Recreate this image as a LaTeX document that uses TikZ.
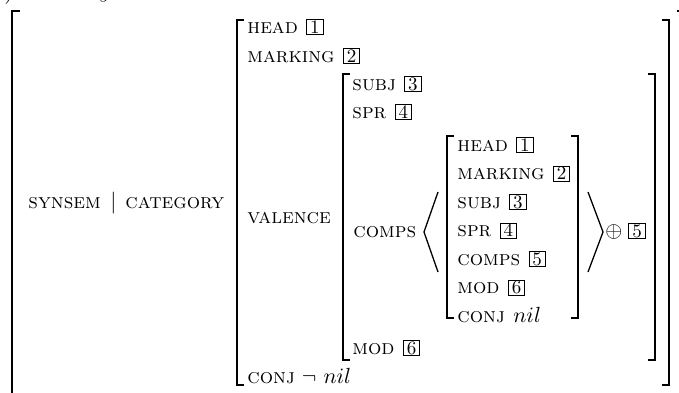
\documentclass[tikz,border=0pt]{standalone}
\newcommand{\tg}[1]{{\setlength{\fboxsep}{0pt}\setlength{\fboxrule}{0.5pt}\fbox{\makebox[7.6pt]{\rule[-0.6pt]{0pt}{6.6pt}\fontsize{9.5}{10}\selectfont #1}}}}
\newcommand{\fs}[1]{\textsc{#1}}
\newcommand{\avsp}{\hspace{4.2pt}}
\begin{document}
\begin{tikzpicture}[x=0.5pt,y=-0.5pt,
  lbl/.style={anchor=base west,inner sep=0pt,font=\fontsize{10.5}{12}\selectfont},
  sqb/.style={line width=0.95pt},
  ang/.style={line width=0.65pt}]
\useasboundingbox (0,0) rectangle (679,392);
% fragments of a line above
\node[lbl] (frA) at (4,-2) {\fontsize{12}{14}\selectfont $)$};
\node[lbl] (frB) at (99,-3) {\fontsize{12}{14}\selectfont $y$};
% outer brackets
\draw[sqb] (20,11) -- (12,11) -- (12,400);
\draw[sqb] (677,11) -- (686,11) -- (686,400);
% category brackets
\draw[sqb] (244,20) -- (237,20) -- (237,385) -- (244,385);
\draw[sqb] (662,20) -- (669,20) -- (669,385) -- (662,385);
% valence brackets
\draw[sqb] (350,74) -- (343,74) -- (343,360) -- (350,360);
\draw[sqb] (648,74) -- (655,74) -- (655,360) -- (648,360);
% inner brackets
\draw[sqb] (454,136) -- (447,136) -- (447,318) -- (454,318);
\draw[sqb] (571,136) -- (578,136) -- (578,318) -- (571,318);
% angle brackets
\draw[ang] (438,192) -- (424,232) -- (438,272);
\draw[ang] (588,192) -- (603,232) -- (588,272);
% left column
\node[lbl] (syn) at (28,208) {\fs{synsem}};
\node[lbl] (bar) at (110,208) {$|$};
\node[lbl] (cat) at (125,208) {\fs{category}};
% category AVM
\node[lbl] (head) at (247,33) {\fs{head}\avsp\tg{1}};
\node[lbl] (mark) at (247,62) {\fs{marking}\avsp\tg{2}};
\node[lbl] (val) at (247,223) {\fs{valence}};
\node[lbl] (conj) at (247,383) {\fs{conj} $\neg$ $nil$};
% valence AVM
\node[lbl] (subj) at (352,90) {\fs{subj}\avsp\tg{3}};
\node[lbl] (spr) at (352,118) {\fs{spr}\avsp\tg{4}};
\node[lbl] (comps) at (353,237) {\fs{comps}};
\node[lbl] (mod) at (352,354) {\fs{mod}\avsp\tg{6}};
% inner AVM
\node[lbl] (ihead) at (457,151) {\fs{head}\avsp\tg{1}};
\node[lbl] (imark) at (457,179.5) {\fs{marking}\avsp\tg{2}};
\node[lbl] (isubj) at (457,208) {\fs{subj}\avsp\tg{3}};
\node[lbl] (ispr) at (457,236.5) {\fs{spr}\avsp\tg{4}};
\node[lbl] (icomps) at (457,265) {\fs{comps}\avsp\tg{5}};
\node[lbl] (imod) at (457,293.5) {\fs{mod}\avsp\tg{6}};
\node[lbl] (iconj) at (457,322) {\fs{conj}\avsp$nil$};
% append
\node[lbl] (oplus) at (605,237) {$\oplus$};
\node[lbl] (five) at (628,237) {\tg{5}};
\end{tikzpicture}
\end{document}
